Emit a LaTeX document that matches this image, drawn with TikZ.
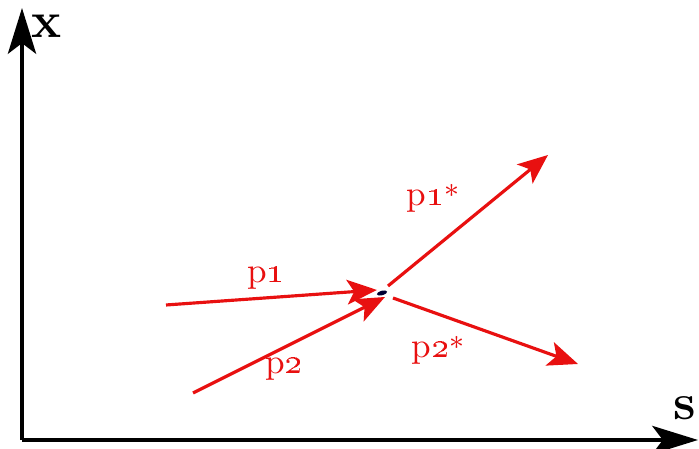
\documentclass[tikz,border=0pt]{standalone}
\usepackage{xcolor}
\usepackage{tikz}
\usetikzlibrary{arrows.meta,positioning,calc,shapes.geometric}
\definecolor{beamred}{RGB}{232,16,16}

\tikzset{
  axis/.style={line width=1.2pt,-{Stealth[length=13pt,width=8pt,inset=3pt]}},
  ray/.style={beamred,line width=0.9pt,-{Stealth[length=8.5pt,width=7pt,inset=2pt]}},
  lbl/.style={text=beamred,font=\normalsize},
}

\begin{document}
\begin{tikzpicture}[x=0.01cm,y=-0.01cm]
  \useasboundingbox (0,0) rectangle (699,449);
  % axes
  \coordinate (O) at (22,440);
  \coordinate (X) at (22,8);
  \coordinate (S) at (698,440);
  \draw[axis] (O) -- (X);
  \draw[axis] (O) -- (S);
  \node[font=\Large\bfseries] (xl) at (47,26) {x};
  \node[font=\Large\bfseries] (sl) at (685,408) {s};

  % collision point
  \node[fill=black!80!blue,ellipse,inner sep=0pt,minimum width=3pt,minimum height=1.3pt,rotate=15] (c) at (382,293) {};
  \coordinate (a1) at (166,305);
  \coordinate (a2) at (193,393);
  \coordinate (b1) at (548,155);
  \coordinate (b2) at (578,364);
  \coordinate (in1) at (377,290);
  \coordinate (in2) at (385,297);
  \coordinate (out1) at (388,286);
  \coordinate (out2) at (393,298);

  \draw[ray] (a1) -- (in1);
  \draw[ray] (a2) -- (in2);
  \draw[ray] (out1) -- (b1);
  \draw[ray] (out2) -- (b2);

  \node[lbl] (p1) at (266,278) {p\oldstylenums{1}};
  \node[lbl] (p2) at (284,369) {p\oldstylenums{2}};
  \node[lbl] (p1s) at (433,198) {p\oldstylenums{1}{\footnotesize*}};
  \node[lbl] (p2s) at (438,350) {p\oldstylenums{2}{\footnotesize*}};
\end{tikzpicture}
\end{document}
